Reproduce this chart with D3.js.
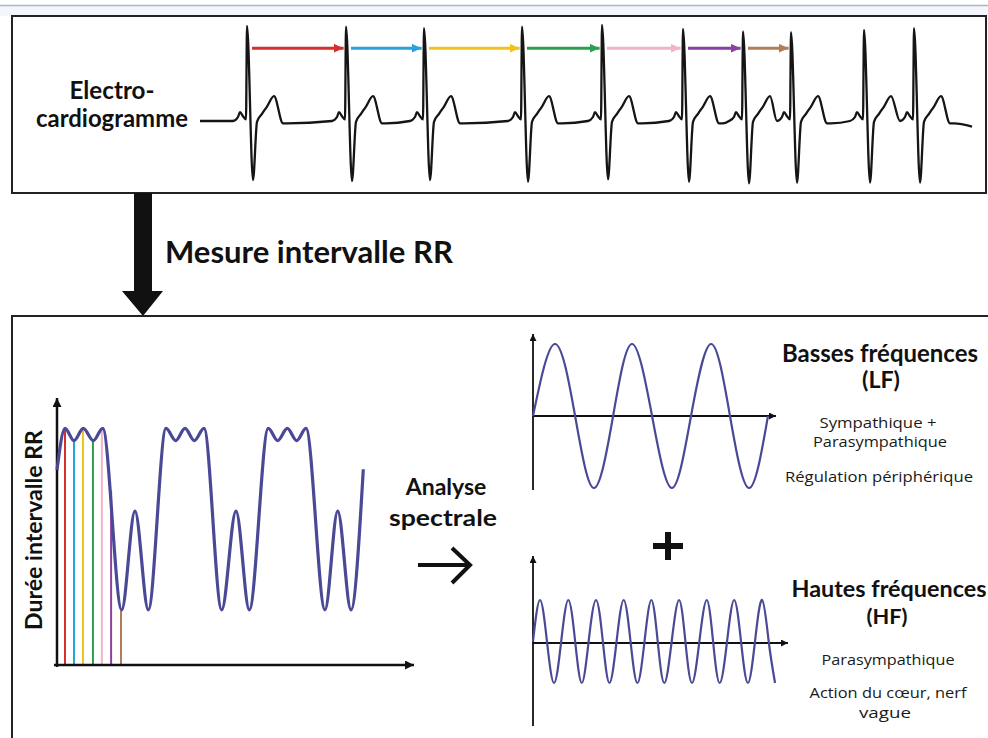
<!DOCTYPE html>
<html><head><meta charset="utf-8">
<script src="https://cdn.jsdelivr.net/npm/d3@7"></script>
<style>html,body{margin:0;padding:0;background:#fff;overflow:hidden}</style>
</head><body>
<svg id="c" width="988" height="738"></svg>
<script>
// ================= DATA =================
// ECG trace (time in ms, voltage in mV)
const ecgDomain = [0, 3860];
const ecgStartVolt = 0.0, ecgEndVolt = -0.07;
const rPeakTimes = [235, 730, 1120, 1610, 2010, 2415, 2715, 2955, 3320, 3570];
const rPeakVolts = [1.19, 1.18, 1.16, 1.18, 1.20, 1.15, 1.12, 1.11, 1.14, 1.16];
const sTroughVolts = [-0.74, -0.75, -0.74, -0.76, -0.73, -0.76, -0.78, -0.77, -0.77, -0.77];
const sOffset = 30;
const preOffsets = [-70, -45, -35, -20, -5];
const preVolts = [0.0, 0.05, 0.11, 0.06, 0.02];
const postOffsets = [50, 75, 100, 135, 180, 200];
const postVolts = [-0.01, 0.09, 0.18, 0.31, -0.03, -0.03];
// RR interval arrows
const rrColors = ["#d6302e", "#2aa2d8", "#f1c21c", "#2c9f4e", "#f2b2cb", "#8b3f9f", "#b27d55"];
const arrowLevel = 0.91;

// RR duration curve (abstract units)
const rrX = [0, 2.25, 4.78, 7.39, 10.2, 12.84, 18.17, 21.9, 25.65, 30.62, 33.34, 35.96, 38.57, 41.29,
             46.26, 50.28, 54.02, 59.35, 61.99, 64.69, 67.33, 69.94, 75.28, 78.85, 82.58, 86.04];
const rrY = [0.75, 0.91, 0.863, 0.91, 0.863, 0.91, 0.212, 0.592, 0.212, 0.91, 0.863, 0.91, 0.863, 0.91,
             0.212, 0.592, 0.212, 0.91, 0.863, 0.91, 0.863, 0.91, 0.212, 0.592, 0.212, 0.753];
const barX = [2.25, 4.78, 7.3, 10.1, 12.6, 15.2, 17.98];
const barY = [0.91, 0.863, 0.905, 0.863, 0.905, 0.67, 0.21];

// Low-frequency sine (LF)
const lfX = [0, 9.1, 17.4, 25.2, 33.1, 40.9, 49.2, 57.4, 65.3, 73.6, 81.4, 89.3, 97.1];
const lfY = [0, 1, 0, -1, 0, 1, 0, -1, 0, 1, 0, -1, 0];
// High-frequency sine (HF)
const hfX = [0, 2.76, 5.5, 8.3, 11.1, 13.9, 16.6, 19.2, 21.9, 24.8, 27.5, 30.1, 32.9, 35.7, 38.4, 41.1,
             43.9, 46.6, 49.1, 51.7, 54.6, 57.5, 60.0, 62.6, 65.5, 68.4, 70.9, 73.5, 76.4, 79.2, 81.9, 84.6, 87.4, 90.2, 92.8, 95.3];
const hfY = [0, 1, 0, -1, 0, 1, 0, -1, 0, 1, 0, -1, 0, 1, 0, -1,
             0, 1, 0, -1, 0, 1, 0, -1, 0, 1, 0, -1, 0, 1, 0, -1, 0, 1, 0, -1];

// ================= DRAW =================
const svg = d3.select("#c");
const FONT = "Lato, 'Open Sans', 'DejaVu Sans', sans-serif";
const SMALLFONT = "'Open Sans', Lato, 'DejaVu Sans', sans-serif";
const waveColor = "#4a4996";

function fitText(sel, w) {
  const L = sel.node().getComputedTextLength();
  const fs = parseFloat(sel.attr("font-size"));
  sel.attr("font-size", (fs * w / L).toFixed(2));
  return sel;
}
function label(x, y, txt, size, bold, w) {
  const t = svg.append("text").attr("x", x).attr("y", y).attr("text-anchor", "middle")
    .attr("font-family", FONT).attr("font-size", size).attr("font-weight", bold ? 700 : 400)
    .attr("fill", "#111").text(txt);
  if (w) fitText(t, w);
  return t;
}
function small(x, y, txt, w) {
  return svg.append("text").attr("x", x).attr("y", y).attr("text-anchor", "middle")
    .attr("font-family", SMALLFONT).attr("font-size", 14.5).attr("font-weight", 400)
    .attr("fill", "#1a1a1a").attr("textLength", w).attr("lengthAdjust", "spacingAndGlyphs").text(txt);
}

// defs: arrow markers
const defs = svg.append("defs");
function marker(id, len, half, color) {
  defs.append("marker").attr("id", id).attr("markerUnits", "userSpaceOnUse")
    .attr("viewBox", `0 ${-half} ${len} ${2 * half}`).attr("refX", len).attr("refY", 0)
    .attr("markerWidth", len).attr("markerHeight", 2 * half).attr("orient", "auto")
    .append("path").attr("d", `M0,${-half}L${len},0L0,${half}Z`).attr("fill", color);
}
marker("axBig", 9, 4.5, "#111");
marker("axSmall", 7, 3.5, "#111");
rrColors.forEach((c, i) => marker("rr" + i, 10, 4.5, c));

// window-like top strip
svg.append("rect").attr("x", 0).attr("y", 5).attr("width", 988).attr("height", 11).attr("fill", "#f3f7fb");
svg.append("line").attr("x1", 0).attr("x2", 988).attr("y1", 5.5).attr("y2", 5.5).attr("stroke", "#a9b6c6").attr("stroke-width", 1.5);

// ---------- ECG panel ----------
svg.append("rect").attr("x", 12).attr("y", 16).attr("width", 974).attr("height", 177)
  .attr("fill", "#fff").attr("stroke", "#222").attr("stroke-width", 2);

const ex = d3.scaleLinear().domain(ecgDomain).range([200, 972]);
const ey = d3.scaleLinear().domain([-1, 1.2]).range([201, 25]);

const ecgPts = [[ecgDomain[0], ecgStartVolt]];
rPeakTimes.forEach((r, i) => {
  const nextR = i < rPeakTimes.length - 1 ? rPeakTimes[i + 1] : Infinity;
  preOffsets.forEach((o, j) => { const t = r + o; if (t > ecgPts[ecgPts.length - 1][0]) ecgPts.push([t, preVolts[j]]); });
  ecgPts.push([r, rPeakVolts[i]]);
  ecgPts.push([r + sOffset, sTroughVolts[i]]);
  postOffsets.forEach((o, j) => { const t = r + o; if (t < nextR - 75) ecgPts.push([t, postVolts[j]]); });
});
ecgPts.push([ecgDomain[1], ecgEndVolt]);

svg.append("path").datum(ecgPts)
  .attr("d", d3.line().x(d => ex(d[0])).y(d => ey(d[1])).curve(d3.curveMonotoneX))
  .attr("fill", "none").attr("stroke", "#151515").attr("stroke-width", 2.3).attr("stroke-linejoin", "round");

rrColors.forEach((c, i) => {
  svg.append("line")
    .attr("x1", ex(rPeakTimes[i] + 25)).attr("x2", ex(rPeakTimes[i + 1] - 12))
    .attr("y1", ey(arrowLevel)).attr("y2", ey(arrowLevel))
    .attr("stroke", c).attr("stroke-width", 3).attr("marker-end", `url(#rr${i})`);
});

label(112, 99, "Electro-", 19, true, 85);
label(112, 127, "cardiogramme", 19, true, 152);

// ---------- big down arrow ----------
svg.append("path").attr("d", "M134,193 H152 V291 H163 L143,316 L122,291 H134 Z").attr("fill", "#111");
svg.append("text").attr("x", 165).attr("y", 263).attr("font-family", FONT).attr("font-size", 26)
  .attr("font-weight", 700).attr("fill", "#111").text("Mesure intervalle RR").call(s => fitText(s, 288));

// ---------- bottom panel ----------
svg.append("path").attr("d", "M12,745 V316 H992").attr("fill", "none").attr("stroke", "#222").attr("stroke-width", 2);

// RR chart
const rx = d3.scaleLinear().domain([0, 100]).range([57, 413]);
const ry = d3.scaleLinear().domain([0, 1]).range([665, 405]);
barX.forEach((bx, i) => {
  svg.append("line").attr("x1", rx(bx)).attr("x2", rx(bx)).attr("y1", ry(0)).attr("y2", ry(barY[i]))
    .attr("stroke", rrColors[i]).attr("stroke-width", 2);
});
svg.append("line").attr("x1", 57).attr("x2", 57).attr("y1", 667).attr("y2", 398)
  .attr("stroke", "#111").attr("stroke-width", 2.5).attr("marker-end", "url(#axBig)");
svg.append("line").attr("x1", 54).attr("x2", 414).attr("y1", ry(0)).attr("y2", ry(0))
  .attr("stroke", "#111").attr("stroke-width", 2.5).attr("marker-end", "url(#axBig)");
svg.append("path").datum(d3.zip(rrX, rrY))
  .attr("d", d3.line().x(d => rx(d[0])).y(d => ry(d[1])).curve(d3.curveMonotoneX))
  .attr("fill", "none").attr("stroke", waveColor).attr("stroke-width", 3.2);

svg.append("text").attr("transform", "translate(42,530) rotate(-90)").attr("text-anchor", "middle")
  .attr("font-family", FONT).attr("font-size", 20).attr("font-weight", 700).attr("fill", "#111")
  .text("Durée intervalle RR").call(s => fitText(s, 200));

label(446, 495, "Analyse", 23, true);
label(443, 526, "spectrale", 23, true).attr("textLength", 108).attr("lengthAdjust", "spacingAndGlyphs");
svg.append("path").attr("d", "M418,565 H468 M452,548 L470,565 L452,583").attr("fill", "none")
  .attr("stroke", "#111").attr("stroke-width", 4);

// LF chart
const lx = d3.scaleLinear().domain([0, 100]).range([533, 775]);
const ly = d3.scaleLinear().domain([-1, 1]).range([488, 344]);
svg.append("line").attr("x1", 533).attr("x2", 533).attr("y1", 490).attr("y2", 334)
  .attr("stroke", "#111").attr("stroke-width", 1.8).attr("marker-end", "url(#axSmall)");
svg.append("line").attr("x1", 533).attr("x2", 776).attr("y1", ly(0)).attr("y2", ly(0))
  .attr("stroke", "#111").attr("stroke-width", 1.8).attr("marker-end", "url(#axSmall)");
svg.append("path").datum(d3.zip(lfX, lfY))
  .attr("d", d3.line().x(d => lx(d[0])).y(d => ly(d[1])).curve(d3.curveNatural))
  .attr("fill", "none").attr("stroke", waveColor).attr("stroke-width", 2.2);

label(880, 362, "Basses fréquences", 20, true, 196);
label(881, 388, "(LF)", 20, true, 38);
small(878, 428, "Sympathique +", 117);
small(880, 447, "Parasympathique", 134);
small(879, 482, "Régulation périphérique", 188);

// plus sign
svg.append("path").attr("d", "M653,546 H683 M668,532 V560").attr("stroke", "#111").attr("stroke-width", 6);

// HF chart
const hx = d3.scaleLinear().domain([0, 100]).range([533, 787]);
const hy = d3.scaleLinear().domain([-1, 1]).range([683, 600]);
svg.append("line").attr("x1", 533).attr("x2", 533).attr("y1", 726).attr("y2", 556)
  .attr("stroke", "#111").attr("stroke-width", 1.8).attr("marker-end", "url(#axSmall)");
svg.append("line").attr("x1", 533).attr("x2", 788).attr("y1", 643).attr("y2", 643)
  .attr("stroke", "#111").attr("stroke-width", 1.8).attr("marker-end", "url(#axSmall)");
svg.append("path").datum(d3.zip(hfX, hfY))
  .attr("d", d3.line().x(d => hx(d[0])).y(d => hy(d[1])).curve(d3.curveNatural))
  .attr("fill", "none").attr("stroke", waveColor).attr("stroke-width", 2.2);

label(889, 597, "Hautes fréquences", 20, true, 195);
label(887, 624, "(HF)", 20, true, 41);
small(888, 665, "Parasympathique", 133);
small(888, 698, "Action du cœur, nerf", 157);
small(885, 718, "vague", 52);
</script>
</body></html>
